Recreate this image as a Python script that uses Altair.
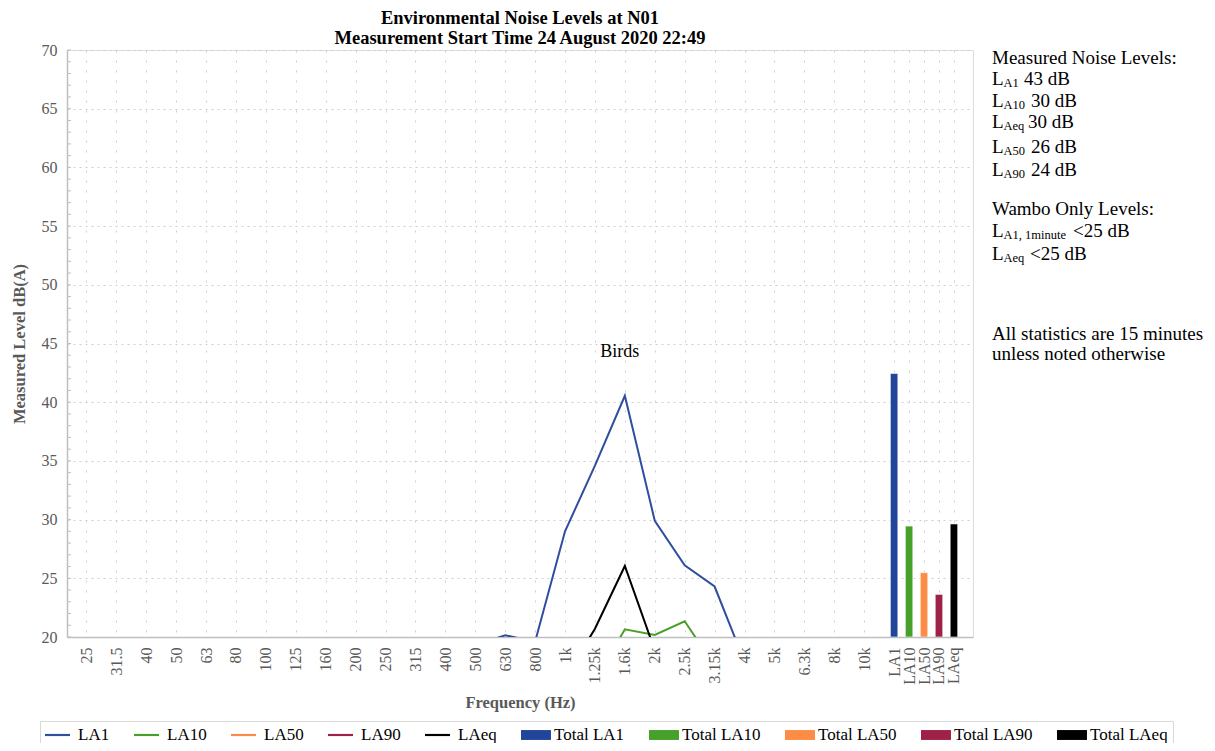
import altair as alt
import pandas as pd

FONT = "Liberation Serif"
GRAY = "#595959"

# ---------------- data ----------------
freq_labels = ["25", "31.5", "40", "50", "63", "80", "100", "125", "160", "200",
               "250", "315", "400", "500", "630", "800", "1k", "1.25k", "1.6k",
               "2k", "2.5k", "3.15k", "4k", "5k", "6.3k", "8k", "10k"]
total_labels = ["LA1", "LA10", "LA50", "LA90", "LAeq"]

# spectra (values below 20 dB sit under the axis floor and are clipped)
la1 = [18.5, 18.2, 17.9, 17.6, 17.3, 17.0, 16.8, 16.7, 16.9, 17.2, 17.5, 18.0, 18.6,
       19.3, 20.15, 19.6, 29.0, 34.6, 40.55, 29.9, 26.1, 24.3, 17.9, 16.5, 15.8, 15.2, 14.6]
la10 = [14.5, 14.2, 13.9, 13.6, 13.4, 13.2, 13.0, 12.9, 13.1, 13.4, 13.8, 14.3, 14.9,
        15.4, 15.8, 15.9, 15.6, 16.2, 20.66, 20.17, 21.34, 17.55, 14.8, 13.6, 12.9, 12.4, 12.0]
la50 = [12.0, 11.8, 11.5, 11.2, 11.0, 10.8, 10.7, 10.6, 10.8, 11.0, 11.4, 11.8, 12.3,
        12.8, 13.1, 13.3, 13.2, 13.6, 15.2, 15.0, 15.6, 14.2, 12.4, 11.5, 10.9, 10.5, 10.2]
la90 = [10.8, 10.6, 10.3, 10.0, 9.8, 9.6, 9.5, 9.4, 9.6, 9.8, 10.2, 10.6, 11.1,
        11.6, 11.9, 12.1, 12.0, 12.4, 13.6, 13.5, 14.0, 12.9, 11.2, 10.4, 9.8, 9.4, 9.1]
laeq = [15.5, 15.2, 14.9, 14.6, 14.4, 14.2, 14.0, 13.9, 14.1, 14.4, 14.8, 15.3, 15.9,
        16.4, 16.9, 16.8, 16.5, 20.7, 26.05, 18.87, 19.2, 17.4, 14.9, 13.8, 13.1, 12.6, 12.2]

total_values = [42.45, 29.45, 25.48, 23.63, 29.63]

line_names = ["LA1", "LA10", "LA50", "LA90", "LAeq"]
line_colors = ["#2f4e9f", "#4a9f2b", "#f98c4b", "#9e2247", "#000000"]
bar_names = ["Total LA1", "Total LA10", "Total LA50", "Total LA90", "Total LAeq"]
bar_colors = ["#22459c", "#46a02a", "#fd8c47", "#9e2147", "#000000"]

birds_note = {"text": "Birds", "band": "1.6k", "level": 44.3}

minor_ticks = list(range(20, 71))
major_ticks = list(range(20, 71, 5))

# ---------------- tables ----------------
freq_pos = {lab: float(i) for i, lab in enumerate(freq_labels)}
total_pos = {lab: 27 + 0.5 * j for j, lab in enumerate(total_labels)}

series = {"LA1": la1, "LA10": la10, "LA50": la50, "LA90": la90, "LAeq": laeq}
rows = []
for name, vals in series.items():
    for lab, v in zip(freq_labels, vals):
        rows.append({"series": name, "band": lab, "pos": freq_pos[lab], "level": v})
lines_df = pd.DataFrame(rows)

bars_df = pd.DataFrame({
    "series": bar_names,
    "band": total_labels,
    "pos": [total_pos[l] for l in total_labels],
    "level": total_values,
})

legend_df = pd.DataFrame({"name": line_names + bar_names})
minor_df = pd.DataFrame({"v": minor_ticks})
birds_df = pd.DataFrame([{"text": birds_note["text"], "pos": freq_pos[birds_note["band"]],
                          "level": birds_note["level"]}])

tick_vals = [freq_pos[l] for l in freq_labels] + [total_pos[l] for l in total_labels]
all_labels = freq_labels + total_labels
label_expr = ("[" + ",".join("'" + l + "'" for l in all_labels) + "]"
              "[datum.value < 27 ? round(datum.value) : 27 + round((datum.value - 27) * 2)]")

xscale = alt.Scale(domain=[-0.48, 29.47], nice=False, zero=False)
yscale = alt.Scale(domain=[20, 70], nice=False, zero=False)

x_axis = alt.Axis(values=tick_vals, labelExpr=label_expr, labelAngle=270, labelAlign="right",
                  labelBaseline="middle", labelPadding=10, labelOverlap=False, labelFlush=False,
                  labelFont=FONT, labelFontSize=16, labelColor=GRAY,
                  ticks=False, tickSize=0, grid=True, gridDash=[2, 8], gridColor="#cfcfcf",
                  domainColor="#bfbfbf", domainWidth=1.5,
                  title="Frequency (Hz)", titleFont=FONT, titleFontSize=16.5,
                  titleFontWeight="bold", titleColor=GRAY, titlePadding=10)
y_axis = alt.Axis(values=major_ticks, labelPadding=10, labelFont=FONT, labelFontSize=16,
                  labelColor=GRAY, ticks=False, tickSize=0, grid=True, gridDash=[2, 4],
                  gridColor="#cfcfcf", domainColor="#bfbfbf", domainWidth=1.5,
                  title="Measured Level dB(A)", titleFont=FONT, titleFontSize=16.5,
                  titleFontWeight="bold", titleColor=GRAY, titlePadding=14)


def X(field):
    return alt.X(field, scale=xscale, axis=x_axis)


def Y(field):
    return alt.Y(field, scale=yscale, axis=y_axis)


lines = alt.Chart(lines_df).mark_line(clip=True, strokeWidth=2).encode(
    x=X("pos:Q"),
    y=Y("level:Q"),
    stroke=alt.Stroke("series:N", scale=alt.Scale(domain=line_names, range=line_colors),
                      legend=None),
    detail="series:N",
    order="pos:Q",
)

bars = alt.Chart(bars_df).mark_bar(size=7.5, clip=True, stroke="white", strokeWidth=0.6).encode(
    x=X("pos:Q"),
    y=Y("level:Q"),
    y2=alt.datum(20),
    fill=alt.Fill("series:N", scale=alt.Scale(domain=bar_names, range=bar_colors), legend=None),
)

minor = alt.Chart(minor_df).mark_rule(color="#bfbfbf", strokeWidth=1).encode(
    y=Y("v:Q"),
    x=alt.value(0),
    x2=alt.value(4),
)

birds = alt.Chart(birds_df).mark_text(font=FONT, fontSize=18, color="black", dx=-5,
                                      baseline="middle").encode(
    x=X("pos:Q"),
    y=Y("level:Q"),
    text="text:N",
)

# legend symbols: left-aligned in their box and extending right (r = 9 px)
line_path = "M-1,-0.12H1.78V0.12H-1Z"
bar_path = "M-1,-0.55H2.33V0.55H-1Z"
leg = alt.Legend(title=None, orient="none", legendX=-27, legendY=671, direction="horizontal",
                 columns=10, strokeColor="#d9d9d9", padding=5, labelFont=FONT,
                 labelFontSize=17, labelColor="black", labelOffset=15, symbolSize=324,
                 symbolStrokeWidth=0, columnPadding=24, labelLimit=0)
legend_layer = alt.Chart(legend_df).mark_point(filled=True, clip=True, strokeWidth=0,
                                               opacity=1).encode(
    x=X("pos:Q"),
    y=Y("lvl:Q"),
    color=alt.Color("name:N", scale=alt.Scale(domain=line_names + bar_names,
                                              range=line_colors + bar_colors), legend=leg),
    shape=alt.Shape("name:N", scale=alt.Scale(domain=line_names + bar_names,
                                              range=[line_path] * 5 + [bar_path] * 5),
                    legend=leg),
).transform_calculate(pos="0", lvl="0")

# right-hand notes: (text, x, y, size) relative to plot origin
notes = [
    ("Measured Noise Levels:", 925, 8, 19),
    ("L", 925, 29, 19), ("A1", 936.5, 33, 12.5), ("43 dB", 957, 29, 19),
    ("L", 925, 51, 19), ("A10", 936.5, 55, 12.5), ("30 dB", 964, 51, 19),
    ("L", 925, 72, 19), ("Aeq", 936.5, 76, 12.5), ("30 dB", 961, 72, 19),
    ("L", 925, 97, 19), ("A50", 936.5, 101, 12.5), ("26 dB", 964, 97, 19),
    ("L", 925, 120, 19), ("A90", 936.5, 124, 12.5), ("24 dB", 964, 120, 19),
    ("Wambo Only Levels:", 925, 159, 19),
    ("L", 925, 181, 19), ("A1, 1minute", 936.5, 185, 12.5), ("<25 dB", 1006, 181, 19),
    ("L", 925, 204, 19), ("Aeq", 936.5, 208, 12.5), ("<25 dB", 963, 204, 19),
    ("All statistics are 15 minutes", 925, 284, 19),
    ("unless noted otherwise", 925, 304, 19),
]
one = pd.DataFrame({"a": [0]})
note_layers = [
    alt.Chart(one).mark_text(align="left", baseline="middle", font=FONT, fontSize=s,
                             color="black").encode(x=alt.value(px), y=alt.value(py),
                                                   text=alt.value(t))
    for (t, px, py, s) in notes
]

chart = alt.layer(lines, bars, minor, birds, legend_layer, *note_layers).properties(
    width=906,
    height=587,
    title=alt.TitleParams(
        text=["Environmental Noise Levels at N01", "Measurement Start Time 24 August 2020 22:49"],
        font=FONT, fontSize=18.5, fontWeight="bold", color="black", anchor="middle",
        lineHeight=20, offset=-5),
    padding={"left": 59, "top": 42, "right": 234, "bottom": 106},
    autosize=alt.AutoSizeParams(type="none"),
).configure_view(stroke="#bfbfbf", strokeWidth=1.5).configure_axis(
    labelOverlap=False
).configure(background="white")

chart.save("out.html", embed_options={"renderer": "svg", "actions": False})
